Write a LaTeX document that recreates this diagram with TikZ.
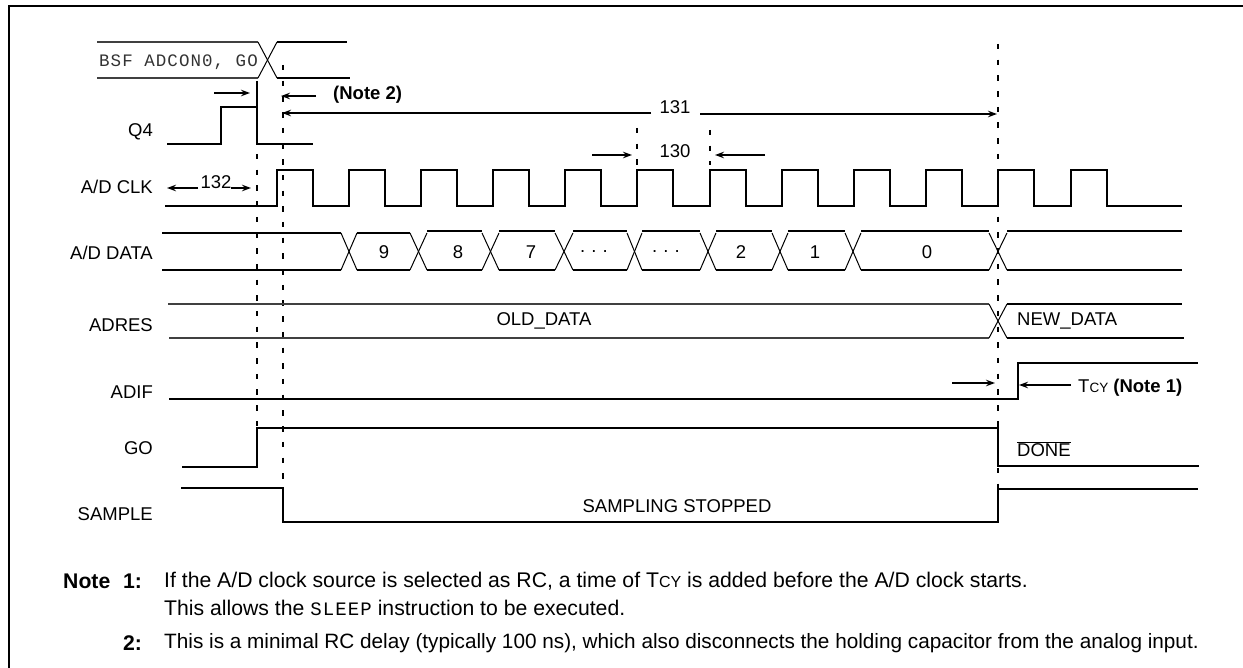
\documentclass[tikz,border=0pt]{standalone}
\usepackage{fontspec}
\usetikzlibrary{arrows.meta, positioning}
\setmainfont{Liberation Sans}
\newfontfamily\codefont[LetterSpace=6]{Liberation Mono}
\newcommand{\tcy}[1]{T{\fontsize{#1}{#1}\selectfont CY}}
\begin{document}
\begin{tikzpicture}[x=1pt, y=-1pt, font=\fontsize{18.5}{22}\selectfont,
    wave/.style={black, line width=1.7pt},
    cross line/.style={black, line width=1pt},
    thin wave/.style={black!75, line width=1.1pt},
    guide/.style={black, line width=1.7pt, dash pattern=on 5.5pt off 10.2pt},
    dim arrow/.style={black, line width=1.4pt, -{Stealth[length=9pt, width=6.5pt]}},
    sig label/.style={anchor=east, inner sep=0pt},
    bus text/.style={inner sep=0pt},
    note text/.style={anchor=west, inner sep=0pt, font=\fontsize{21.2}{24}\selectfont}]
    \useasboundingbox (0,0) rectangle (1243,668);

    % frame
    \draw[line width=2pt] (9,668) -- (9,6) -- (1243,6);

    % guide lines
    \draw[guide] (257,154) -- (257,427);
    \draw[guide] (283,65) -- (283,488);
    \draw[guide] (998,44) -- (998,484);
    \draw[guide] (637,128) -- (637,165);
    \draw[guide] (710,130) -- (710,165);

    % BSF bus
    \draw[thin wave] (97,42) -- (258,42);
    \draw[thin wave] (97,78) -- (258,78);
    \draw[cross line] (258,42) -- (277,78);
    \draw[cross line] (258,78) -- (277,42);
    \draw[wave] (277,42) -- (347,42);
    \draw[wave] (277,78) -- (350,78);
    \node[bus text, anchor=west, black!80] (bsf) at (99,62) {\codefont\fontsize{17.5}{18}\selectfont BSF ADCON0, GO};

    % Q4
    \node[sig label] (q4) at (153,132) {Q4};
    \draw[wave] (167,144) -- (221,144) -- (221,107) -- (257,107);
    \draw[wave] (257,81) -- (257,144) -- (313,144);

    % A/D CLK
    \node[sig label] (adclk) at (153,187) {A/D CLK};
    \draw[wave] (165,206)
      \foreach \xr in {277,349,421,493,565,637,710,782,854,926,998,1071} {
        -- (\xr,206) -- (\xr,170) -- (\xr+36,170) -- (\xr+36,206)
      } -- (1182,206);

    % A/D DATA
    \node[sig label] (addata) at (153,253) {A/D DATA};
    \foreach \xa/\xb in {341/357, 410/427, 482/499, 555/573, 627/642, 700/716, 772/788, 845/861, 989/1007} {
      \draw[cross line] (\xa,233) -- (\xb,270);
      \draw[cross line] (\xa,270) -- (\xb,233);
    }
    \draw[wave] (162,233) -- (341,233);
    \draw[wave] (357,233) -- (410,233);
    \foreach \xa/\xb in {427/482, 499/555, 573/627, 642/700, 716/772, 788/845, 861/989, 1007/1182}
      \draw[wave] (\xa,231) -- (\xb,231);
    \foreach \xa/\xb in {162/341, 357/410, 427/482, 499/555, 573/627, 642/700, 716/772, 788/845, 861/989, 1007/1182}
      \draw[wave] (\xa,270) -- (\xb,270);
    \foreach \xb/\txt in {384/9, 458/8, 531/7, 741/2, 815/1, 927/0}
      \node[bus text] at (\xb,252) {\txt};
    \foreach \xb in {594,666}
      \node[bus text] at (\xb,252) {.\,\,.\,\,.};

    % ADRES
    \node[sig label] (adres) at (153,325) {ADRES};
    \draw[thin wave] (168,304) -- (989,304);
    \draw[thin wave] (169,338) -- (989,338);
    \draw[cross line] (989,304) -- (1007,338);
    \draw[cross line] (989,338) -- (1007,304);
    \draw[wave] (1007,304) -- (1182,304);
    \draw[wave] (1007,338) -- (1184,338);
    \node[bus text] (old) at (544,321) {OLD\_DATA};
    \node[bus text, anchor=west] (new) at (1017,321) {NEW\_DATA};

    % ADIF
    \node[sig label] (adif) at (153,392) {ADIF};
    \draw[wave] (169,399) -- (1018,399) -- (1018,363) -- (1198,363);

    % GO
    \node[sig label] (go) at (153,448) {GO};
    \draw[wave] (182,467) -- (257,467) -- (257,428) -- (998,428);
    \draw[wave] (998,421) -- (998,466) -- (1199,466);
    \node[bus text, anchor=west] (done) at (1017,449) {$\overline{\mbox{DONE}}$};

    % SAMPLE
    \node[sig label] (sample) at (153,514) {SAMPLE};
    \draw[wave] (181,488) -- (283,488) -- (283,522) -- (998,522) -- (998,484);
    \draw[wave] (998,489) -- (1198,489);
    \node[bus text] (stopped) at (677,506) {SAMPLING STOPPED};

    % timing marks
    \draw[dim arrow] (214,93) -- (250,93);
    \draw[dim arrow] (316,96) -- (281,96);
    \node[bus text, anchor=west, font=\fontsize{18.5}{22}\selectfont\bfseries] (note2) at (333,95) {(Note 2)};
    \node[bus text] (t131) at (675,107) {131};
    \draw[dim arrow] (651,113) -- (282,113);
    \draw[dim arrow] (700,114) -- (997,114);
    \node[bus text] (t130) at (675,151) {130};
    \draw[dim arrow] (592,155) -- (632,155);
    \draw[dim arrow] (765,155) -- (715,155);
    \node[bus text] (t132) at (216,182) {132};
    \draw[dim arrow] (198,188) -- (167,188);
    \draw[dim arrow] (231,188) -- (251,188);
    \draw[dim arrow] (952,383) -- (995,383);
    \draw[dim arrow] (1071,385) -- (1019,385);
    \node[bus text, anchor=west] (tcylab) at (1078,388) {\tcy{13.5}\ \textbf{(Note 1)}};

    % notes
    \node[note text] (note) at (63,581) {\textbf{Note}};
    \node[note text] (n1) at (123,581) {\textbf{1:}};
    \node[note text] (l1) at (164,581) {If the A/D clock source is selected as RC, a time of \tcy{16}\ is added before the A/D clock starts.};
    \node[note text] (l2) at (164,608) {This allows the {\codefont\fontsize{19}{20}\selectfont SLEEP} instruction to be executed.};
    \node[note text] (n2) at (123,643) {\textbf{2:}};
    \node[note text, font=\fontsize{20.75}{24}\selectfont] (l3) at (164,643) {This is a minimal RC delay (typically 100 ns), which also disconnects the holding capacitor from the analog input.};
\end{tikzpicture}
\end{document}
